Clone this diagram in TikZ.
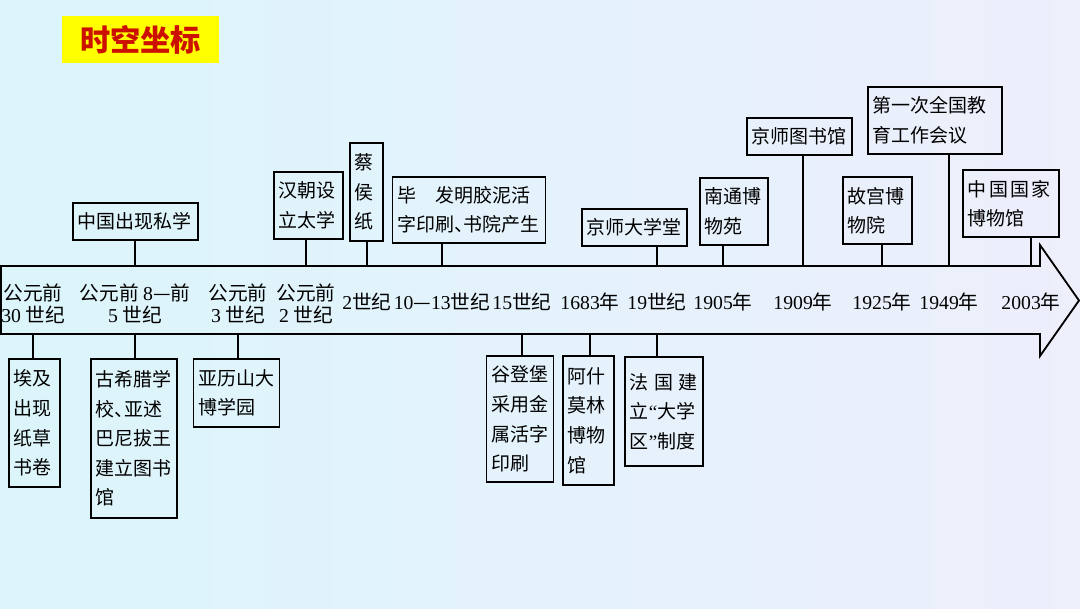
\documentclass[tikz,border=0pt]{standalone}
\usepackage{fontspec}
\setmainfont{Noto Sans CJK SC}
\newfontfamily\latinfont{Liberation Serif}
\newcommand{\digs}[1]{{\latinfont #1}}
\newcommand{\dun}{\makebox[0.5em][l]{、}}
\definecolor{bgleft}{RGB}{219,245,251}
\definecolor{bgright}{RGB}{237,239,251}
\definecolor{titleyellow}{RGB}{255,255,0}
\definecolor{titlered}{RGB}{204,17,0}

\begin{document}
\begin{tikzpicture}[
  x=0.025cm, y=-0.025cm,
  evt/.style={draw, line width=1.2pt, align=left, inner xsep=0.12cm, inner ysep=0pt, font=\fontsize{13.5}{21}\selectfont},
  lbl/.style={align=center, inner sep=0pt, font=\fontsize{14}{15.6}\selectfont},
  link/.style={line width=1.2pt},
  titlebox/.style={fill=titleyellow, text=titlered, font=\fontsize{21.5}{24}\selectfont\bfseries, minimum width=3.925cm, minimum height=1.175cm}
]
\fill[left color=bgleft, right color=bgright] (0,0) rectangle (1080,608);
\useasboundingbox (0,0) rectangle (1080,608);

\node[titlebox] (title) at (140.5,39.5) {时空坐标};

% time axis
\coordinate (axtop) at (0,266);
\coordinate (axbot) at (0,334);
\draw[link, line width=1.3pt] (1,266) -- (1040,266) -- (1040,245) -- (1079,300.5) -- (1040,356) -- (1040,334) -- (1,334) -- cycle;

\node[lbl] (l30) at (33,304) {公元前\\\digs{30} 世纪};
\node[lbl] (l8) at (135,304) {公元前 \digs{8}—前\\\digs{5} 世纪};
\node[lbl] (l3) at (238,304) {公元前\\\digs{3} 世纪};
\node[lbl] (l2) at (306,304) {公元前\\\digs{2} 世纪};
\node[lbl] (c2) at (367,302) {\digs{2}世纪};
\node[lbl] (c1013) at (442,302) {\digs{10}—\digs{13}世纪};
\node[lbl] (c15) at (522,302) {\digs{15}世纪};
\node[lbl] (y1683) at (590,302) {\digs{1683}年};
\node[lbl] (c19) at (657,302) {\digs{19}世纪};
\node[lbl] (y1905) at (723,302) {\digs{1905}年};
\node[lbl] (y1909) at (803,302) {\digs{1909}年};
\node[lbl] (y1925) at (882,302) {\digs{1925}年};
\node[lbl] (y1949) at (949,302) {\digs{1949}年};
\node[lbl] (y2003) at (1031,302) {\digs{2003}年};

% events above the axis
\node[evt, text width=2.885cm, minimum height=0.925cm] (prv) at (135.5,221.5) {中国出现私学};
\node[evt, text width=1.485cm, minimum height=1.675cm] (tai) at (308.5,205.5) {汉朝设\\立太学};
\node[evt, text width=0.585cm, minimum height=2.45cm] (cai) at (366.5,192) {蔡\\侯\\纸};
\node[evt, text width=3.58cm, minimum height=1.65cm] (print) at (469,210) {毕\hspace{1em}发明胶泥活\\字印刷\dun 书院产生};
\node[evt, text width=2.39cm, minimum height=0.925cm] (jsdx) at (634.5,227.5) {京师大学堂};
\node[evt, text width=1.46cm, minimum height=1.675cm] (ntbw) at (734,211.5) {南通博\\物苑};
\node[evt, text width=2.39cm, minimum height=0.925cm] (jstsg) at (799.5,136.5) {京师图书馆};
\node[evt, text width=1.485cm, minimum height=1.675cm] (gg) at (877.5,210.5) {故宫博\\物院};
\node[evt, text width=3.11cm, minimum height=1.675cm] (edu) at (935,120.5) {第一次全国教\\育工作会议};
\node[evt, text width=2.16cm, minimum height=1.675cm] (gjbwg) at (1011,203.5) {\makebox[2.075cm][s]{中\hfill 国\hfill 国\hfill 家}\\博物馆};

% events below the axis
\node[evt, text width=1.035cm, minimum height=3.2cm] (egypt) at (34.5,423) {埃及\\出现\\纸草\\书卷};
\node[evt, text width=1.91cm, minimum height=3.975cm] (greece) at (134,438.5) {古希腊学\\校\dun 亚述\\巴尼拔王\\建立图书\\馆};
\node[evt, text width=1.91cm, minimum height=1.7cm] (alex) at (236.5,393) {亚历山大\\博学园};
\node[evt, text width=1.43cm, minimum height=3.15cm] (gut) at (520,419) {谷登堡\\采用金\\属活字\\印刷};
\node[evt, text width=1.035cm, minimum height=3.225cm] (ash) at (588.5,420.5) {阿什\\莫林\\博物\\馆};
\node[evt, text width=1.71cm, minimum height=2.725cm] (france) at (664,411.5) {\makebox[1.7cm][s]{法\hfill 国\hfill 建}\\立\digs{“}大学\\区\digs{”}制度};

\draw[link] (prv.south -| l8) -- (l8 |- axtop);
\draw[link] (tai.south -| l2) -- (l2 |- axtop);
\draw[link] (cai.south -| c2) -- (c2 |- axtop);
\draw[link] (print.south -| c1013) -- (c1013 |- axtop);
\draw[link] (jsdx.south -| c19) -- (c19 |- axtop);
\draw[link] (ntbw.south -| y1905) -- (y1905 |- axtop);
\draw[link] (jstsg.south -| y1909) -- (y1909 |- axtop);
\draw[link] (gg.south -| y1925) -- (y1925 |- axtop);
\draw[link] (edu.south -| y1949) -- (y1949 |- axtop);
\draw[link] (gjbwg.south -| y2003) -- (y2003 |- axtop);

\draw[link] (l30 |- axbot) -- (egypt.north -| l30);
\draw[link] (l8 |- axbot) -- (greece.north -| l8);
\draw[link] (l3 |- axbot) -- (alex.north -| l3);
\draw[link] (c15 |- axbot) -- (gut.north -| c15);
\draw[link] (y1683 |- axbot) -- (ash.north -| y1683);
\draw[link] (c19 |- axbot) -- (france.north -| c19);
\end{tikzpicture}
\end{document}
